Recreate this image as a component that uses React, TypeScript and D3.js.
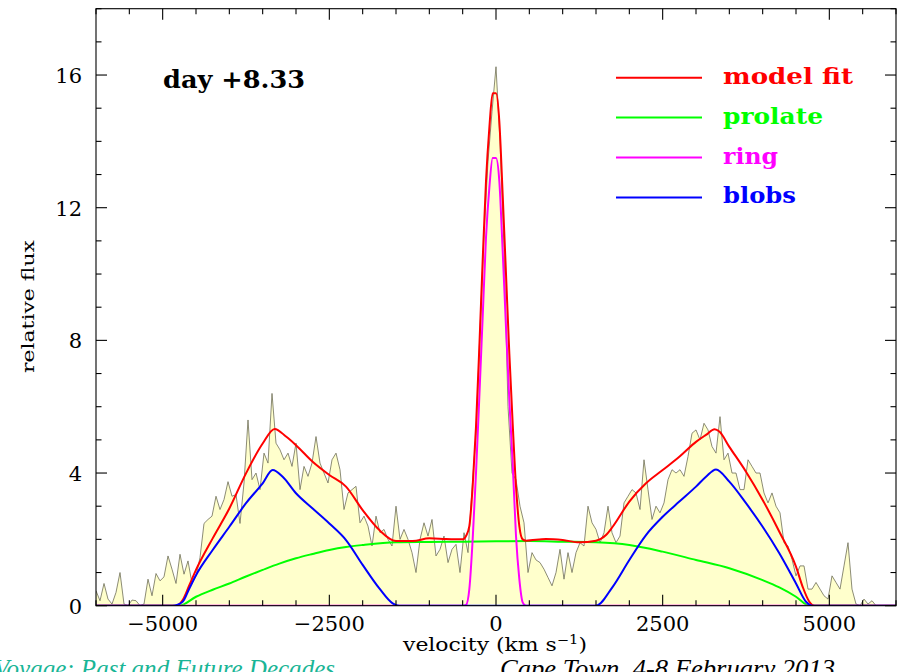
import React from 'react';
import * as d3 from 'd3';

// ---------- data ----------
// observed spectrum, sampled every 60 km/s from -6000 to +6000
const obsStart = -6000;
const obsStep = 60;
const obsFlux: number[] = [
  // -6000 .. -3000
  0.45, 0.15, 0.67, 0.2, 0.05, 0.4, 1.0, 0.05, 0.0, 0.17,
  0.15, 0.0, 0.05, 0.8, 0.3, 0.97, 0.75, 0.87, 1.5, 1.1,
  0.67, 1.55, 0.95, 1.35, 0.67, 0.9, 1.45, 2.48, 2.6, 2.7,
  3.3, 2.9, 3.2, 3.74, 3.3, 3.35, 2.48, 3.7, 5.6, 3.8,
  4.0, 3.5, 4.6, 4.3, 6.4, 4.9, 4.7, 4.4, 4.6, 4.2,
  4.9,
  // -2940 .. -540
  3.5, 4.2, 3.9, 4.3, 5.1, 4.3, 4.0, 3.7, 4.4, 4.6,
  4.1, 2.9, 3.4, 3.5, 3.6, 2.5, 2.7, 2.4, 1.8, 2.7,
  2.2, 2.3, 2.0, 1.8, 3.0, 2.0, 2.3, 2.0, 1.6, 1.0,
  2.0, 2.5, 2.1, 2.6, 1.5, 1.7, 2.1, 1.3, 1.7, 1.85,
  1.0,
  // -480 .. 3000
  2.2, 1.6, 3.5, 5.2, 8.3, 11.2, 13.4, 14.9, 16.25,
  14.0, 10.8, 6.0, 4.0, 3.8, 3.0, 2.5, 1.0, 1.6, 1.38,
  1.3, 1.1, 0.85, 0.6, 1.0, 1.7, 0.8, 1.6, 1.0, 1.6,
  1.9, 1.8, 3.0, 2.5, 2.3, 1.9, 2.2, 3.0, 2.2, 1.9,
  2.1, 3.1, 3.3, 3.5, 3.4, 2.9, 4.4, 3.5, 2.6, 3.0,
  2.8, 3.1, 3.8, 4.1, 4.0, 4.1, 3.9, 4.5, 5.2, 5.3,
  // 3060 .. 6000
  5.0, 5.5, 5.3, 4.8, 4.6, 5.7, 4.4, 4.6, 4.0, 4.0,
  3.5, 3.5, 4.4, 4.2, 4.0, 4.0, 3.4, 3.1, 3.4, 3.0,
  2.8, 1.9, 1.8, 1.4, 0.9, 1.2, 1.2, 0.5, 0.5, 0.7,
  0.5, 0.3, 0.2, 0.9, 0.7, 0.5, 1.2, 1.9, 0.5, 0.05,
  0.0, 0.2, 0.05, 0.15, 0.0, 0.0, 0.0, 0.0, 0.0, 0.0,
];

// model fit (red)
const fitVel = [
  -6000, -4800, -4700, -4600, -4500, -4250, -4000, -3750, -3500, -3320,
  -3150, -3000, -2750, -2500, -2250, -2000, -1750, -1500, -1250, -1000,
  -750, -500, -450, -400, -350, -300, -250, -200, -150, -100,
  -50, 0, 50, 100, 150, 200, 250, 300, 350, 400,
  450, 750, 1000, 1250, 1500, 1650, 1750, 2000, 2250, 2500,
  2750, 3000, 3150, 3280, 3350, 3500, 3750, 4000, 4250, 4500,
  4600, 4700, 4780, 6000,
];
const fitFlux = [
  0, 0, 0.17, 0.62, 1.08, 2.03, 2.93, 3.99, 4.89, 5.33,
  5.1, 4.84, 4.34, 3.94, 3.59, 2.88, 2.28, 1.95, 1.95, 2.03,
  2.01, 2.0, 2.1, 2.4, 3.6, 5.4, 7.8, 10.4, 12.8, 14.4,
  15.45, 15.45, 14.6, 12.4, 10.0, 7.6, 5.5, 3.6, 2.4, 2.0,
  1.96, 2.01, 1.98, 1.91, 1.96, 2.13, 2.38, 3.14, 3.69, 4.09,
  4.49, 4.94, 5.15, 5.32, 5.25, 4.79, 4.04, 3.19, 2.23, 1.18,
  0.57, 0.12, 0, 0,
];

// prolate component (green)
const prolateVel = [
  -6000, -4750, -4500, -4250, -4000, -3750, -3500, -3250, -3000, -2750,
  -2500, -2250, -2000, -1500, -1000, -500, 0, 500, 1000, 1500,
  2000, 2500, 3000, 3500, 4000, 4250, 4500, 4700, 6000,
];
const prolateFlux = [
  0, 0, 0.27, 0.48, 0.67, 0.88, 1.08, 1.27, 1.43, 1.56,
  1.68, 1.77, 1.83, 1.91, 1.92, 1.93, 1.94, 1.95, 1.93, 1.91,
  1.83, 1.63, 1.38, 1.13, 0.77, 0.55, 0.27, 0, 0,
];

// ring component (magenta)
const ringVel = [
  -6000, -500, -450, -400, -350, -300, -250, -200, -150, -100,
  -50, 0, 50, 100, 150, 200, 250, 300, 350, 400,
  450, 6000,
];
const ringFlux = [
  0, 0, 0.02, 0.5, 2.0, 4.0, 6.3, 8.7, 11.1, 12.6,
  13.5, 13.5, 12.8, 10.7, 8.4, 6.2, 4.3, 2.1, 0.8, 0.1,
  0, 0,
];

// blobs component (blue)
const blobsVel = [
  -6000, -4850, -4700, -4600, -4500, -4250, -4000, -3750, -3500, -3350,
  -3200, -3000, -2750, -2500, -2250, -2000, -1750, -1550, -1450, 1500,
  1750, 2000, 2250, 2500, 2750, 3000, 3150, 3300, 3500, 3750,
  4000, 4250, 4500, 4650, 4750, 6000,
];
const blobsFlux = [
  0, 0, 0.12, 0.52, 0.92, 1.68, 2.38, 3.09, 3.69, 4.09,
  3.89, 3.39, 2.93, 2.48, 1.98, 1.23, 0.52, 0.07, 0, 0,
  0.57, 1.38, 2.13, 2.68, 3.14, 3.59, 3.89, 4.11, 3.74, 3.09,
  2.38, 1.58, 0.67, 0.12, 0, 0,
];

const xMajorTicks = [-5000, -2500, 0, 2500, 5000];
const xTickLabels = ['\u22125000', '\u22122500', '0', '2500', '5000'];
const yMajorTicks = [0, 4, 8, 12, 16];
const yTickLabels = ['0', '4', '8', '12', '16'];

const legendNames = ['model fit', 'prolate', 'ring', 'blobs'];
const legendColors = ['#ff0000', '#00ff00', '#ff00ff', '#0000ff'];
const legendWidths = [130, 100, 55, 73];

const annotation = 'day +8.33';
const footerLeft = 'Voyage: Past and Future Decades';
const footerRight = 'Cape Town, 4-8 February 2013';

// ---------- component ----------
export default function App() {
  const W = 897;
  const H = 672;
  const left = 96;
  const right = 896;
  const top = 8.7;
  const bottom = 605.7;

  const x = d3.scaleLinear().domain([-6000, 6000]).range([left, right]);
  const y = d3.scaleLinear().domain([0, 18]).range([bottom, top]);

  const obs = obsFlux.map((f, i) => ({ v: obsStart + i * obsStep, f }));
  const area = d3
    .area<{ v: number; f: number }>()
    .x((d) => x(d.v))
    .y0(y(0))
    .y1((d) => y(d.f));
  const obsLine = d3
    .line<{ v: number; f: number }>()
    .x((d) => x(d.v))
    .y((d) => y(d.f));

  const smooth = (vel: number[], flux: number[]) =>
    d3
      .line<number>()
      .x((_, i) => x(vel[i]))
      .y((f) => y(f))
      .curve(d3.curveMonotoneX)(flux) as string;

  const xMinor = d3.range(-6000, 6001, 500).filter((v) => !xMajorTicks.includes(v));
  const yMinor = d3.range(0, 19, 1).filter((v) => !yMajorTicks.includes(v));
  const majLen = 11;
  const minLen = 5.5;

  const tickFont = "'DejaVu Serif', serif";
  const serif = "'DejaVu Serif', 'Liberation Serif', serif";

  return (
    <svg
      width={W}
      height={H}
      viewBox={`0 0 ${W} ${H}`}
      style={{ position: 'absolute', left: 0, top: 0, background: '#ffffff' }}
    >
      <defs>
        <clipPath id="plotClip">
          <rect x={left} y={top} width={right - left} height={bottom - top} />
        </clipPath>
      </defs>
      <rect x={0} y={0} width={W} height={H} fill="#ffffff" />

      <g clipPath="url(#plotClip)">
        <path d={area(obs) as string} fill="#ffffcc" stroke="none" />
        <path d={obsLine(obs) as string} fill="none" stroke="#6f6f58" strokeWidth={0.8} />
        <path d={smooth(prolateVel, prolateFlux)} fill="none" stroke={legendColors[1]} strokeWidth={2} />
        <path d={smooth(ringVel, ringFlux)} fill="none" stroke={legendColors[2]} strokeWidth={2} />
        <path d={smooth(fitVel, fitFlux)} fill="none" stroke={legendColors[0]} strokeWidth={2} />
        <path d={smooth(blobsVel, blobsFlux)} fill="none" stroke={legendColors[3]} strokeWidth={2} />
      </g>

      {/* frame */}
      <rect x={left} y={top} width={right - left} height={bottom - top} fill="none" stroke="#000" strokeWidth={1.1} />

      {/* x ticks bottom & top */}
      {xMajorTicks.map((v) => (
        <g key={'xM' + v}>
          <line x1={x(v)} x2={x(v)} y1={bottom} y2={bottom - majLen} stroke="#000" strokeWidth={1.1} />
          <line x1={x(v)} x2={x(v)} y1={top} y2={top + majLen} stroke="#000" strokeWidth={1.1} />
        </g>
      ))}
      {xMinor.map((v) => (
        <g key={'xm' + v}>
          <line x1={x(v)} x2={x(v)} y1={bottom} y2={bottom - minLen} stroke="#000" strokeWidth={1.1} />
          <line x1={x(v)} x2={x(v)} y1={top} y2={top + minLen} stroke="#000" strokeWidth={1.1} />
        </g>
      ))}
      {/* y ticks left & right */}
      {yMajorTicks.map((v) => (
        <g key={'yM' + v}>
          <line x1={left} x2={left + majLen} y1={y(v)} y2={y(v)} stroke="#000" strokeWidth={1.1} />
          <line x1={right} x2={right - majLen} y1={y(v)} y2={y(v)} stroke="#000" strokeWidth={1.1} />
        </g>
      ))}
      {yMinor.map((v) => (
        <g key={'ym' + v}>
          <line x1={left} x2={left + minLen} y1={y(v)} y2={y(v)} stroke="#000" strokeWidth={1.1} />
          <line x1={right} x2={right - minLen} y1={y(v)} y2={y(v)} stroke="#000" strokeWidth={1.1} />
        </g>
      ))}

      {/* tick labels */}
      {xMajorTicks.map((v, i) => (
        <text key={'xl' + v} x={x(v)} y={631} textAnchor="middle" fontFamily={tickFont} fontSize={21} fill="#000">
          {xTickLabels[i]}
        </text>
      ))}
      {yMajorTicks.map((v, i) => (
        <text key={'yl' + v} x={82} y={y(v) + 7.8} textAnchor="end" fontFamily={tickFont} fontSize={21} fill="#000">
          {yTickLabels[i]}
        </text>
      ))}

      {/* axis titles */}
      <text x={403} y={651} fontFamily={serif} fontSize={18} fill="#000" textLength={184} lengthAdjust="spacingAndGlyphs">
        velocity (km s<tspan dy={-7} fontSize={12}>{'\u22121'}</tspan><tspan dy={7}>)</tspan>
      </text>
      <text
        transform="translate(34,373) rotate(-90)"
        x={0}
        y={0}
        fontFamily={serif}
        fontSize={17}
        fill="#000"
        textLength={133}
        lengthAdjust="spacingAndGlyphs"
      >
        relative flux
      </text>

      {/* annotation */}
      <text x={163} y={88.3} fontFamily={serif} fontWeight="bold" fontSize={25} fill="#000" textLength={142} lengthAdjust="spacingAndGlyphs">
        {annotation}
      </text>

      {/* legend */}
      {legendNames.map((name, i) => {
        const ly = 77.7 + i * 39.9;
        return (
          <g key={name}>
            <line x1={616} x2={702} y1={ly} y2={ly} stroke={legendColors[i]} strokeWidth={2} />
            <text
              x={723}
              y={ly + 6}
              fontFamily={serif}
              fontWeight="bold"
              fontSize={22}
              fill={legendColors[i]}
              textLength={legendWidths[i]}
              lengthAdjust="spacingAndGlyphs"
            >
              {name}
            </text>
          </g>
        );
      })}

      {/* footer */}
      <text x={-6} y={677} fontFamily="'Liberation Serif', serif" fontStyle="italic" fontSize={25} fill="#19b596" textLength={341} lengthAdjust="spacingAndGlyphs">
        {footerLeft}
      </text>
      <text x={500} y={677} fontFamily="'Liberation Serif', serif" fontStyle="italic" fontSize={25} fill="#000" textLength={335} lengthAdjust="spacingAndGlyphs">
        {footerRight}
      </text>
    </svg>
  );
}
